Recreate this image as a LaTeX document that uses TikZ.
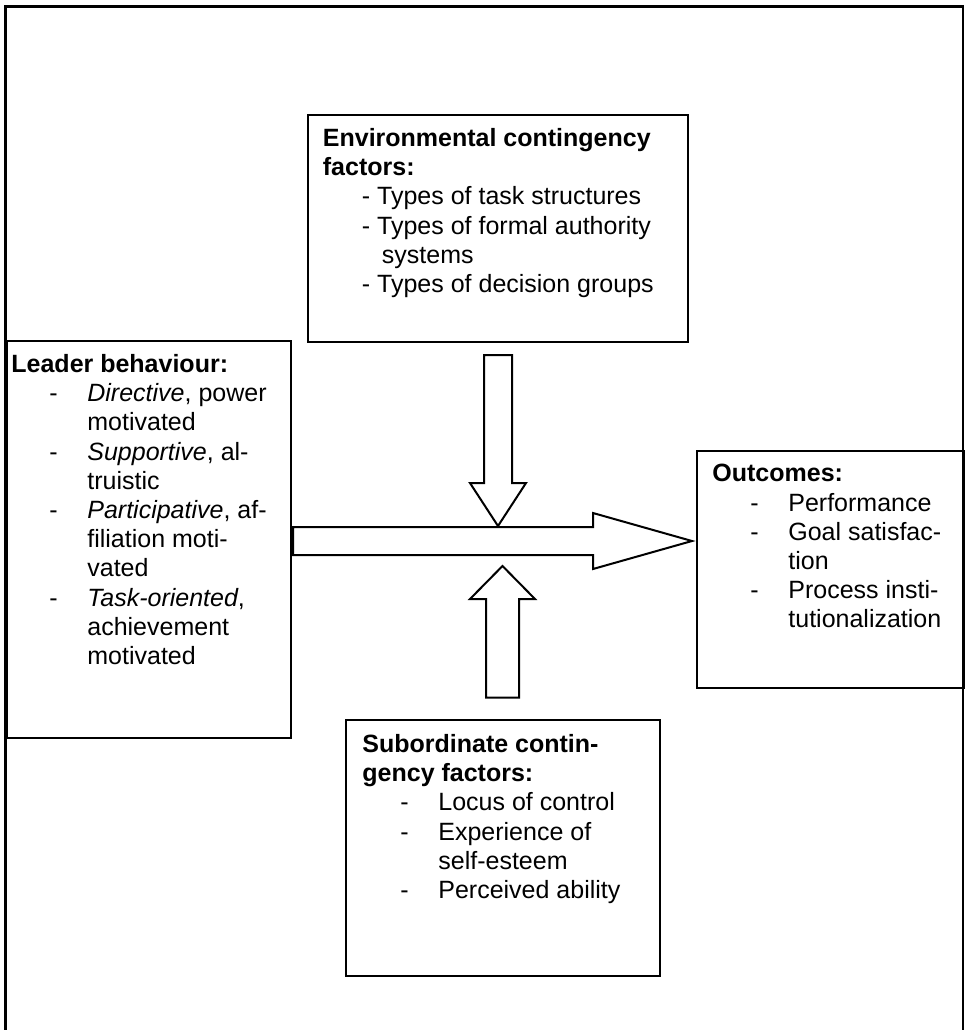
\documentclass[tikz,border=0pt]{standalone}
\usepackage{fontspec}
\setmainfont{Liberation Sans}
\usetikzlibrary{
	positioning,
	calc
}
\newcommand{\dashitem}{\hspace*{19pt}\makebox[19pt][l]{-}}
\newcommand{\dashcont}{\hspace*{38pt}}

\begin{document}
\begin{tikzpicture}[
		x=0.5pt, y=-0.5pt,
		box/.style={draw, line width=1pt, inner sep=0pt, anchor=north west},
		txt/.style={align=left, inner sep=0pt, font=\fontsize{12.5pt}{14.6pt}\selectfont},
		frame/.style={line width=1.2pt},
		blockarrow/.style={draw, fill=white, line width=1pt, line join=miter}
		]
		\useasboundingbox (0,0) rectangle (967,1030);
		
		% Frame (open at the bottom)
		\draw[frame] (5.5,1030) -- (5.5,6.5) -- (963,6.5) -- (963,1030);
		
		% Boxes
		\node[box, minimum width=190.25pt, minimum height=113.5pt] (env) at (306.5,114) {};
		\node[box, minimum width=142.25pt, minimum height=198.5pt] (leader) at (5.5,340) {};
		\node[box, minimum width=133.5pt, minimum height=118.5pt] (outcome) at (696,450) {};
		\node[box, minimum width=156.75pt, minimum height=127.75pt] (sub) at (345,719) {};
		
		% Texts
		\node[txt, below right=7pt and 8pt of env.north west] (envtxt) {
			\textbf{Environmental contingency}\\
			\textbf{factors:}\\
			\hspace*{19.5pt}- Types of task structures\\
			\hspace*{19.5pt}- Types of formal authority\\
			\hspace*{29.5pt}systems\\
			\hspace*{19.5pt}- Types of decision groups
		};
		
		\node[txt, below right=7pt and 2.75pt of leader.north west] (leadertxt) {
			\textbf{Leader behaviour:}\\
			\dashitem\textit{Directive}, power\\
			\dashcont motivated\\
			\dashitem\textit{Supportive}, al-\\
			\dashcont truistic\\
			\dashitem\textit{Participative}, af-\\
			\dashcont filiation moti-\\
			\dashcont vated\\
			\dashitem\textit{Task-oriented},\\
			\dashcont achievement\\
			\dashcont motivated
		};
		
		\node[txt, below right=7pt and 8pt of outcome.north west] (outcometxt) {
			\textbf{Outcomes:}\\
			\dashitem Performance\\
			\dashitem Goal satisfac-\\
			\dashcont tion\\
			\dashitem Process insti-\\
			\dashcont tutionalization
		};
		
		\node[txt, below right=7.5pt and 8.5pt of sub.north west] (subtxt) {
			\textbf{Subordinate contin-}\\
			\textbf{gency factors:}\\
			\dashitem Locus of control\\
			\dashitem Experience of\\
			\dashcont self-esteem\\
			\dashitem Perceived ability
		};
		
		% Block arrows
		\coordinate (flowtail) at (293,541);
		\coordinate (flowtip) at (692,541);
		\coordinate (envtail) at (498,355);
		\coordinate (envtip) at (498,526);
		\coordinate (subtail) at (502.5,697.5);
		\coordinate (subtip) at (502.5,566);
		
		\draw[blockarrow] (flowtail) ++(0,-14) -- ++(300,0) -- ++(0,-14) -- (flowtip)
			-- ++(-99,28) -- ++(0,-14) -- ++(-300,0) -- cycle;
		\draw[blockarrow] (envtail) ++(14,0) -- ++(0,128) -- ++(14,0) -- (envtip)
			-- ++(-28,-43) -- ++(14,0) -- ++(0,-128) -- cycle;
		\draw[blockarrow] (subtail) ++(16.5,0) -- ++(0,-98.5) -- ++(16,0) -- (subtip)
			-- ++(-32.5,33) -- ++(16,0) -- ++(0,98.5) -- cycle;
		
	\end{tikzpicture}
\end{document}
